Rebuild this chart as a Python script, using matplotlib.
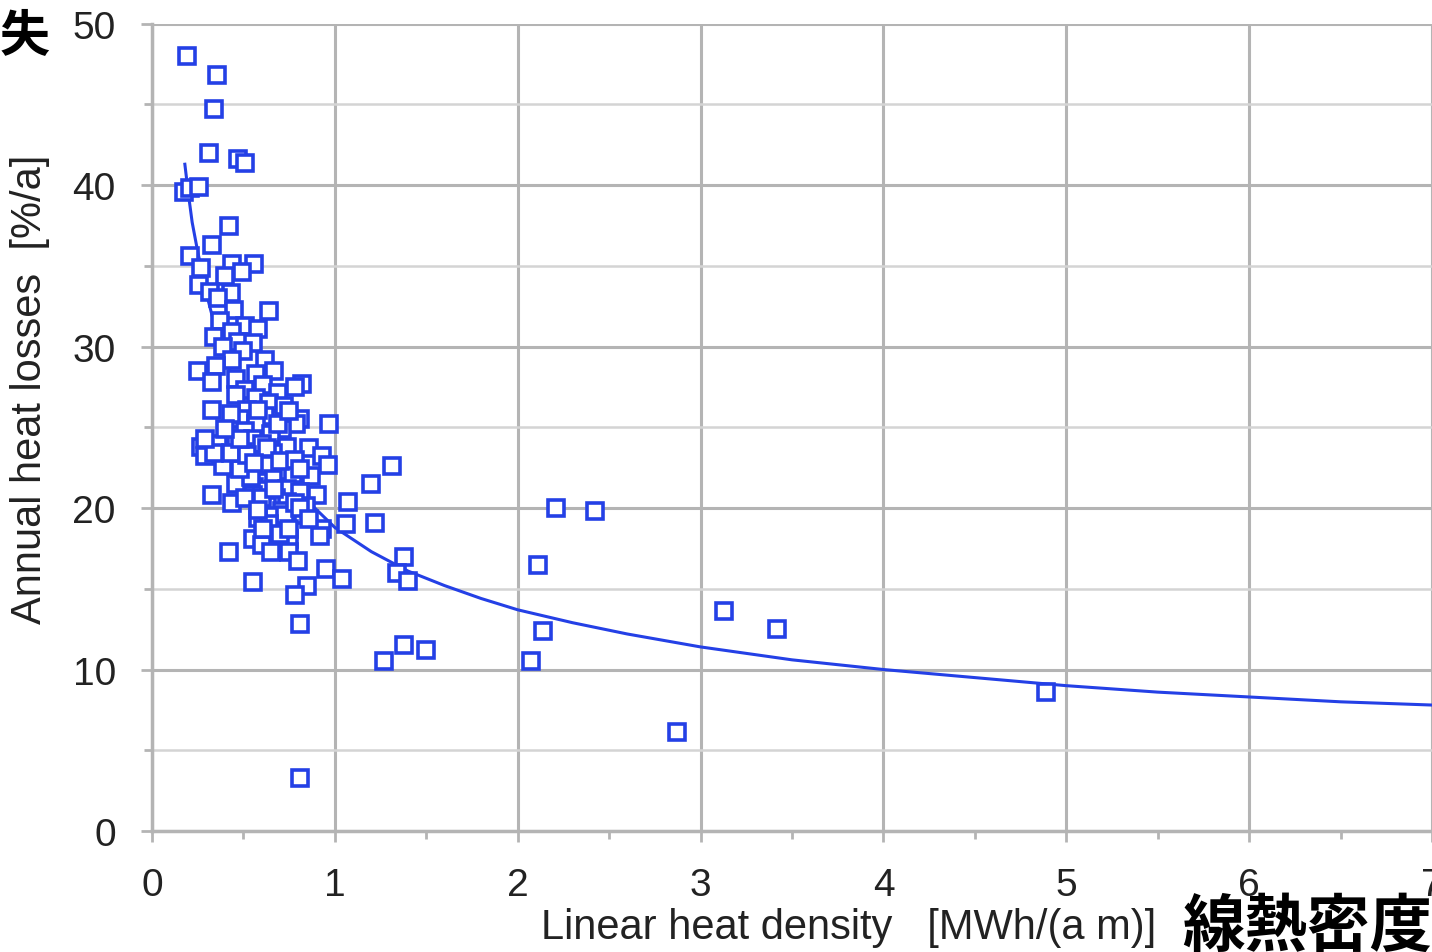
import matplotlib.pyplot as plt
from matplotlib.ticker import MultipleLocator

plt.rcParams['font.family'] = ['Liberation Sans', 'DejaVu Sans']

# scatter points: linear heat density [MWh/(a m)] vs annual heat losses [%/a]
heat_density = [
    0.19, 0.355, 0.34, 0.31, 0.47, 0.51, 0.175, 0.21, 0.26, 0.42,
    0.33, 0.21, 0.44, 0.56, 0.27, 0.49, 0.40, 0.26, 0.32, 0.43,
    0.36, 0.64, 0.45, 0.37, 0.51, 0.58, 0.44, 0.34, 0.47, 0.55,
    0.39, 0.50, 0.62, 0.44, 0.35, 0.25, 0.67, 0.57, 0.46, 0.33,
    0.82, 0.78, 0.61, 0.51, 0.69, 0.46, 0.57, 0.64, 0.72, 0.33,
    0.52, 0.62, 0.48, 0.81, 0.97, 0.79, 0.57, 0.71, 0.51, 0.65,
    0.41, 0.55, 0.60, 0.46, 0.36, 0.27, 0.74, 0.86, 0.50, 0.66,
    0.29, 0.46, 0.93, 0.57, 0.96, 0.63, 0.39, 0.54, 1.31, 0.72,
    0.77, 0.87, 0.66, 0.58, 1.20, 0.56, 0.46, 0.74, 0.62, 0.81,
    0.33, 0.55, 0.90, 0.68, 0.74, 0.44, 1.07, 0.84, 0.63, 0.71,
    2.21, 2.42, 0.79, 0.65, 0.58, 0.74, 1.22, 1.06, 0.93, 0.68,
    0.92, 0.62, 0.55, 0.75, 0.67, 0.42, 0.60, 0.75, 1.38, 0.65,
    0.80, 2.11, 1.34, 0.95, 1.04, 1.40, 0.55, 0.85, 0.78, 3.13,
    3.42, 2.14, 0.81, 1.38, 1.50, 1.27, 2.07, 4.89, 2.87, 0.81,
    0.51, 0.60, 0.67, 0.73, 0.64, 0.58, 0.78, 0.70, 0.75, 0.61,
    0.81, 0.86, 0.54, 0.48, 0.43, 0.52, 0.63, 0.70, 0.78, 0.81,
    0.56, 0.48, 0.69, 0.75, 0.58, 0.43, 0.40, 0.34, 0.29,
]
heat_loss = [
    48.0, 46.8, 44.7, 42.0, 41.6, 41.4, 39.6, 39.8, 39.9, 37.5,
    36.3, 35.6, 35.1, 35.1, 34.9, 34.6, 34.4, 33.8, 33.4, 33.3,
    33.0, 32.2, 32.3, 31.6, 31.3, 31.1, 30.9, 30.6, 30.3, 30.2,
    30.0, 29.7, 29.2, 29.2, 28.8, 28.5, 28.5, 28.3, 28.0, 27.8,
    27.7, 27.5, 27.6, 27.3, 27.1, 27.0, 26.8, 26.5, 26.3, 26.1,
    26.1, 25.7, 25.5, 25.5, 25.2, 25.2, 25.2, 24.9, 24.8, 24.6,
    24.3, 24.3, 24.0, 24.0, 24.0, 23.8, 23.8, 23.7, 23.5, 23.4,
    23.2, 23.0, 23.2, 23.0, 22.7, 22.7, 22.6, 22.4, 22.6, 22.3,
    22.1, 22.0, 21.8, 21.6, 21.5, 21.3, 21.5, 21.2, 21.1, 21.0,
    20.8, 20.8, 20.8, 20.6, 20.4, 20.3, 20.4, 20.1, 20.1, 19.8,
    20.0, 19.8, 19.6, 19.5, 19.4, 19.2, 19.1, 19.0, 18.7, 18.6,
    18.3, 18.1, 18.1, 18.1, 17.7, 17.3, 17.7, 17.3, 17.0, 17.3,
    16.7, 16.5, 16.0, 16.2, 15.6, 15.5, 15.4, 15.2, 14.6, 13.6,
    12.5, 12.4, 12.8, 11.5, 11.2, 10.5, 10.5, 8.6, 6.1, 3.3,
    20.6, 20.6, 21.2, 19.6, 19.0, 19.9, 20.3, 18.4, 18.7, 18.7,
    20.0, 19.3, 21.9, 22.4, 23.4, 23.3, 23.7, 22.9, 23.0, 22.4,
    22.8, 24.3, 25.2, 26.0, 26.1, 25.8, 24.9, 23.4, 24.3,
]

# power-law trend line as drawn in the chart
trend_x = [0.18, 0.2, 0.22, 0.25, 0.3, 0.35, 0.4, 0.5, 0.6, 0.7, 0.8, 0.9, 1.0,
           1.2, 1.4, 1.6, 1.8, 2.0, 2.3, 2.6, 3.0, 3.5, 4.0, 4.5, 5.0, 5.5,
           6.0, 6.5, 7.0]
trend_y = [41.3, 39.4, 37.7, 35.9, 33.2, 31.0, 29.3, 26.4, 24.3, 22.5, 21.0,
           19.9, 18.8, 17.3, 16.1, 15.2, 14.4, 13.7, 12.9, 12.2, 11.4, 10.6,
           10.0, 9.5, 9.0, 8.6, 8.3, 8.0, 7.8]

blue = '#2440e6'

fig = plt.figure(figsize=(14.32, 9.53), dpi=100)
ax = fig.add_axes([0.1061, 0.127, 0.894, 0.847])

ax.plot(trend_x, trend_y, color=blue, lw=2.2, zorder=3)
ax.plot(heat_density, heat_loss, ls='none', marker='s', markersize=11,
        markerfacecolor='white', markeredgecolor=blue, markeredgewidth=2.6,
        zorder=4, clip_on=False)

ax.set_xlim(0, 7)
ax.set_ylim(0, 50)
ax.xaxis.set_major_locator(MultipleLocator(1))
ax.xaxis.set_minor_locator(MultipleLocator(0.5))
ax.yaxis.set_major_locator(MultipleLocator(10))
ax.yaxis.set_minor_locator(MultipleLocator(5))

ax.grid(which='major', color='#b4b4b4', lw=2.2)
ax.grid(which='minor', axis='y', color='#d4d4d4', lw=1.8)
ax.set_axisbelow(True)

for side in ['top', 'right']:
    ax.spines[side].set_visible(False)
for side in ['left', 'bottom']:
    ax.spines[side].set_color('#b4b4b4')
    ax.spines[side].set_linewidth(2.5)

ax.tick_params(which='both', colors='#b4b4b4', width=2, labelcolor='#222222')
ax.tick_params(which='major', length=8, labelsize=28, pad=18)
ax.tick_params(which='minor', length=6)

ax.set_xlabel('Linear heat density   [MWh/(a m)]', fontsize=30, color='#222222',
              va='center', ha='center')
ax.set_ylabel('Annual heat losses  [%/a]', fontsize=30, color='#222222',
              va='center', ha='center')
ax.xaxis.set_label_coords(0.544, -0.119)
ax.yaxis.set_label_coords(-0.095, 0.548)

jp = ['Noto Sans CJK JP', 'DejaVu Sans']
fig.text(0.0, 0.962, '失', fontsize=36, fontweight='bold', family=jp,
         ha='left', va='center')
fig.text(1.0, 0.027, '線熱密度', fontsize=45, fontweight='bold', family=jp,
         ha='right', va='center')

plt.savefig('out.png', dpi=100)
